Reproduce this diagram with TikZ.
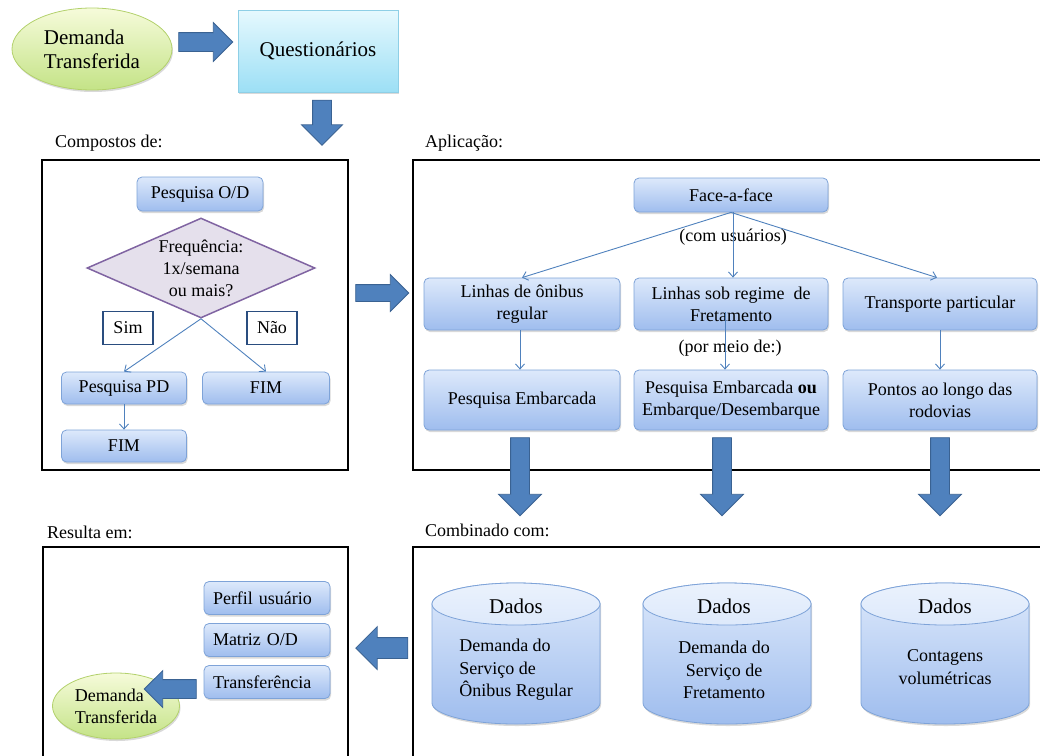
\documentclass[tikz,border=0pt]{standalone}
\usepackage{fontspec}
\setmainfont{Liberation Serif}
\usetikzlibrary{shapes.geometric,shapes.arrows,shadows,arrows.meta}

\definecolor{boxtop}{HTML}{DDE9FB}
\definecolor{boxbot}{HTML}{9FBDEE}
\definecolor{boxline}{HTML}{7EA3D8}
\definecolor{cyantop}{HTML}{E6F9FE}
\definecolor{cyanbot}{HTML}{9CDFF5}
\definecolor{cyanline}{HTML}{8ECFE6}
\definecolor{greentop}{HTML}{F6FBDA}
\definecolor{greenbot}{HTML}{C4E387}
\definecolor{greenline}{HTML}{B3D16C}
\definecolor{lilac}{HTML}{E5E0EC}
\definecolor{purpleline}{HTML}{8064A2}
\definecolor{arrowfill}{HTML}{4F81BD}
\definecolor{arrowline}{HTML}{3A6292}
\definecolor{simline}{HTML}{2A4D7F}

\newcommand{\txt}{\fontsize{18}{22}\selectfont}
\newcommand{\bigtxt}{\fontsize{21}{24}\selectfont}

\tikzset{
  softshadow/.style={drop shadow={shadow xshift=1pt, shadow yshift=-2pt, opacity=0.3}},
  bluebox/.style={draw=boxline, line width=0.8pt, rounded corners=5pt,
    top color=boxtop, bottom color=boxbot, align=center, font=\txt,
    inner sep=2pt, softshadow},
  greenoval/.style={ellipse, draw=greenline, line width=0.8pt,
    top color=greentop, bottom color=greenbot, align=left, inner sep=0pt, softshadow},
  panel/.style={draw=black, line width=1.6pt},
  paneltitle/.style={font=\txt, anchor=west, inner sep=0pt},
  thinarrow/.style={draw=arrowfill, line width=0.9pt, -{Straight Barb[length=5pt,width=9pt]}},
  blockarrow/.style={single arrow, fill=arrowfill, draw=arrowline, line width=0.8pt,
    inner xsep=0pt, minimum width=1pt},
}

% desenha o cilindro de dados centrado em x
\newcommand{\datadrum}[1]{
  \draw[draw=boxline, line width=0.8pt, top color=boxtop, bottom color=boxbot, softshadow]
    (#1-84,604) -- (#1-84,703) arc[start angle=180, end angle=360, x radius=84pt, y radius=21pt]
    -- (#1+84,604) arc[start angle=0, end angle=180, x radius=84pt, y radius=21pt] -- cycle;
  \draw[draw=boxline, line width=0.8pt, top color=white!40!boxtop, bottom color=boxtop]
    (#1,604) ellipse [x radius=84pt, y radius=21pt];
}

\begin{document}
\begin{tikzpicture}[x=1pt, y=-1pt]
  \useasboundingbox (0,0) rectangle (1040,755);

  % topo
  \node[greenoval, minimum width=160pt, minimum height=82pt, font=\bigtxt] (demtop) at (92,49) {Demanda\\Transferida};
  \node[blockarrow, minimum height=54pt, single arrow head extend=10pt, inner ysep=9pt] (arrtop) at (201,42) {};
  \node[draw=cyanline, line width=0.8pt, top color=cyantop, bottom color=cyanbot, softshadow,
        minimum width=160pt, minimum height=82pt, font=\bigtxt] (quest) at (318,51) {Questionários};
  \node[blockarrow, rotate=-90, minimum height=45pt, single arrow head extend=11pt, inner ysep=9pt] (arrquest) at (322,118) {};

  % titulos
  \node[paneltitle] (tcomp) at (55,143) {Compostos de:};
  \node[paneltitle] (tapl) at (425,143) {Aplicação:};
  \node[paneltitle] (tres) at (47,532) {Resulta em:};
  \node[paneltitle] (tcomb) at (425,530) {Combinado com:};

  \draw[panel] (42,160) rectangle (348,470);
  \draw[panel] (413,160) rectangle (1060,470);
  \draw[panel] (43,547) rectangle (348,780);
  \draw[panel] (413,547) rectangle (1060,780);

  % compostos de
  \node[bluebox, minimum width=126pt, minimum height=34pt] (pod) at (200,194) {Pesquisa O/D};
  \node[diamond, draw=purpleline, line width=1.5pt, fill=lilac, minimum width=228pt,
        minimum height=100pt, inner sep=0pt] (freq) at (201,268) {};
  \node[font=\txt, align=center] (freqtxt) at (201,268) {Frequência:\\1x/semana\\ou mais?};
  \node[draw=simline, line width=1.5pt, fill=white, minimum width=50pt, minimum height=33pt, font=\txt] (sim) at (128,328) {Sim};
  \node[draw=simline, line width=1.5pt, fill=white, minimum width=50pt, minimum height=33pt, font=\txt] (nao) at (272,328) {Não};
  \node[bluebox, minimum width=125pt, minimum height=32pt] (pd) at (124,388) {Pesquisa PD};
  \node[bluebox, minimum width=127pt, minimum height=32pt] (fimA) at (266,388) {FIM};
  \node[bluebox, minimum width=125pt, minimum height=32pt] (fimB) at (124,446) {FIM};
  \draw[thinarrow] (freq.south) -- (pd.north);
  \draw[thinarrow] (freq.south) -- (fimA.north);
  \draw[thinarrow] (pd.south) -- (fimB.north);

  \node[blockarrow, minimum height=53pt, single arrow head extend=10pt, inner ysep=8pt] (arrmid) at (378,293) {};

  % aplicacao
  \node[bluebox, minimum width=194pt, minimum height=34pt] (fac) at (731,195) {Face-a-face};
  \node[font=\txt] (com) at (733,237) {(com usuários)};
  \node[bluebox, minimum width=196pt, minimum height=52pt] (lin1) at (522,304) {Linhas de ônibus\\regular};
  \node[bluebox, minimum width=194pt, minimum height=52pt] (lin2) at (731,304) {Linhas sob regime\ \ de\\Fretamento};
  \node[bluebox, minimum width=194pt, minimum height=52pt] (lin3) at (940,304) {Transporte particular};
  \node[font=\txt] (por) at (730,348) {(por meio de:)};
  \node[bluebox, minimum width=196pt, minimum height=60pt] (emb1) at (522,400) {Pesquisa Embarcada};
  \node[bluebox, minimum width=194pt, minimum height=60pt] (emb2) at (731,400) {Pesquisa Embarcada \textbf{ou}\\Embarque/Desembarque};
  \node[bluebox, minimum width=194pt, minimum height=60pt] (emb3) at (940,400) {Pontos ao longo das\\rodovias};
  \draw[thinarrow] (fac.south) -- (lin1.north);
  \draw[thinarrow] ([xshift=2pt]fac.south) -- ([xshift=2pt]lin2.north);
  \draw[thinarrow] (fac.south) -- ([xshift=-3pt]lin3.north);
  \draw[thinarrow] ([xshift=-2pt]lin1.south) -- ([xshift=-2pt]emb1.north);
  \draw[thinarrow] ([xshift=-6pt,yshift=-8pt]lin2.center) -- ([xshift=-6pt]emb2.north);
  \draw[thinarrow] (lin3.south) -- (emb3.north);

  \foreach \ax/\nm in {520/arrA, 722/arrB, 940/arrC} {
    \node[blockarrow, rotate=-90, minimum height=78pt, single arrow head extend=12pt, inner ysep=9pt] (\nm) at (\ax,472) {};
  }

  % combinado com
  \datadrum{516}
  \datadrum{727}
  \datadrum{945}
  \node[font=\bigtxt] (dadosA) at (516,606) {Dados};
  \node[font=\bigtxt] (dadosB) at (724,606) {Dados};
  \node[font=\bigtxt] (dadosC) at (945,606) {Dados};
  \node[font=\fontsize{18}{22.5}\selectfont, align=left] (cylA) at (516,670) {Demanda do\\Serviço de\\Ônibus Regular};
  \node[font=\fontsize{18}{22.5}\selectfont, align=center] (cylB) at (724,670) {Demanda do\\Serviço de\\Fretamento};
  \node[font=\fontsize{18}{22.5}\selectfont, align=center] (cylC) at (945,667) {Contagens\\volumétricas};

  \node[blockarrow, rotate=180, minimum height=52pt, single arrow head extend=11pt, inner ysep=10pt] (arrback) at (387,648) {};

  % resulta em
  \node[bluebox, minimum width=126pt, minimum height=33pt, text width=108pt, align=left] (perf) at (267,598) {Perfil usuário};
  \node[bluebox, minimum width=126pt, minimum height=33pt, text width=108pt, align=left] (mat) at (267,640) {Matriz O/D};
  \node[bluebox, minimum width=126pt, minimum height=33pt, text width=108pt, align=left] (transf) at (267,682) {Transferência};
  \node[greenoval, minimum width=127pt, minimum height=66pt, font=\txt] (dembot) at (116,706) {Demanda\\Transferida};
  \node[blockarrow, rotate=180, minimum height=52pt, single arrow head extend=9pt, inner ysep=9pt] (arrdem) at (175,689) {};
\end{tikzpicture}
\end{document}
